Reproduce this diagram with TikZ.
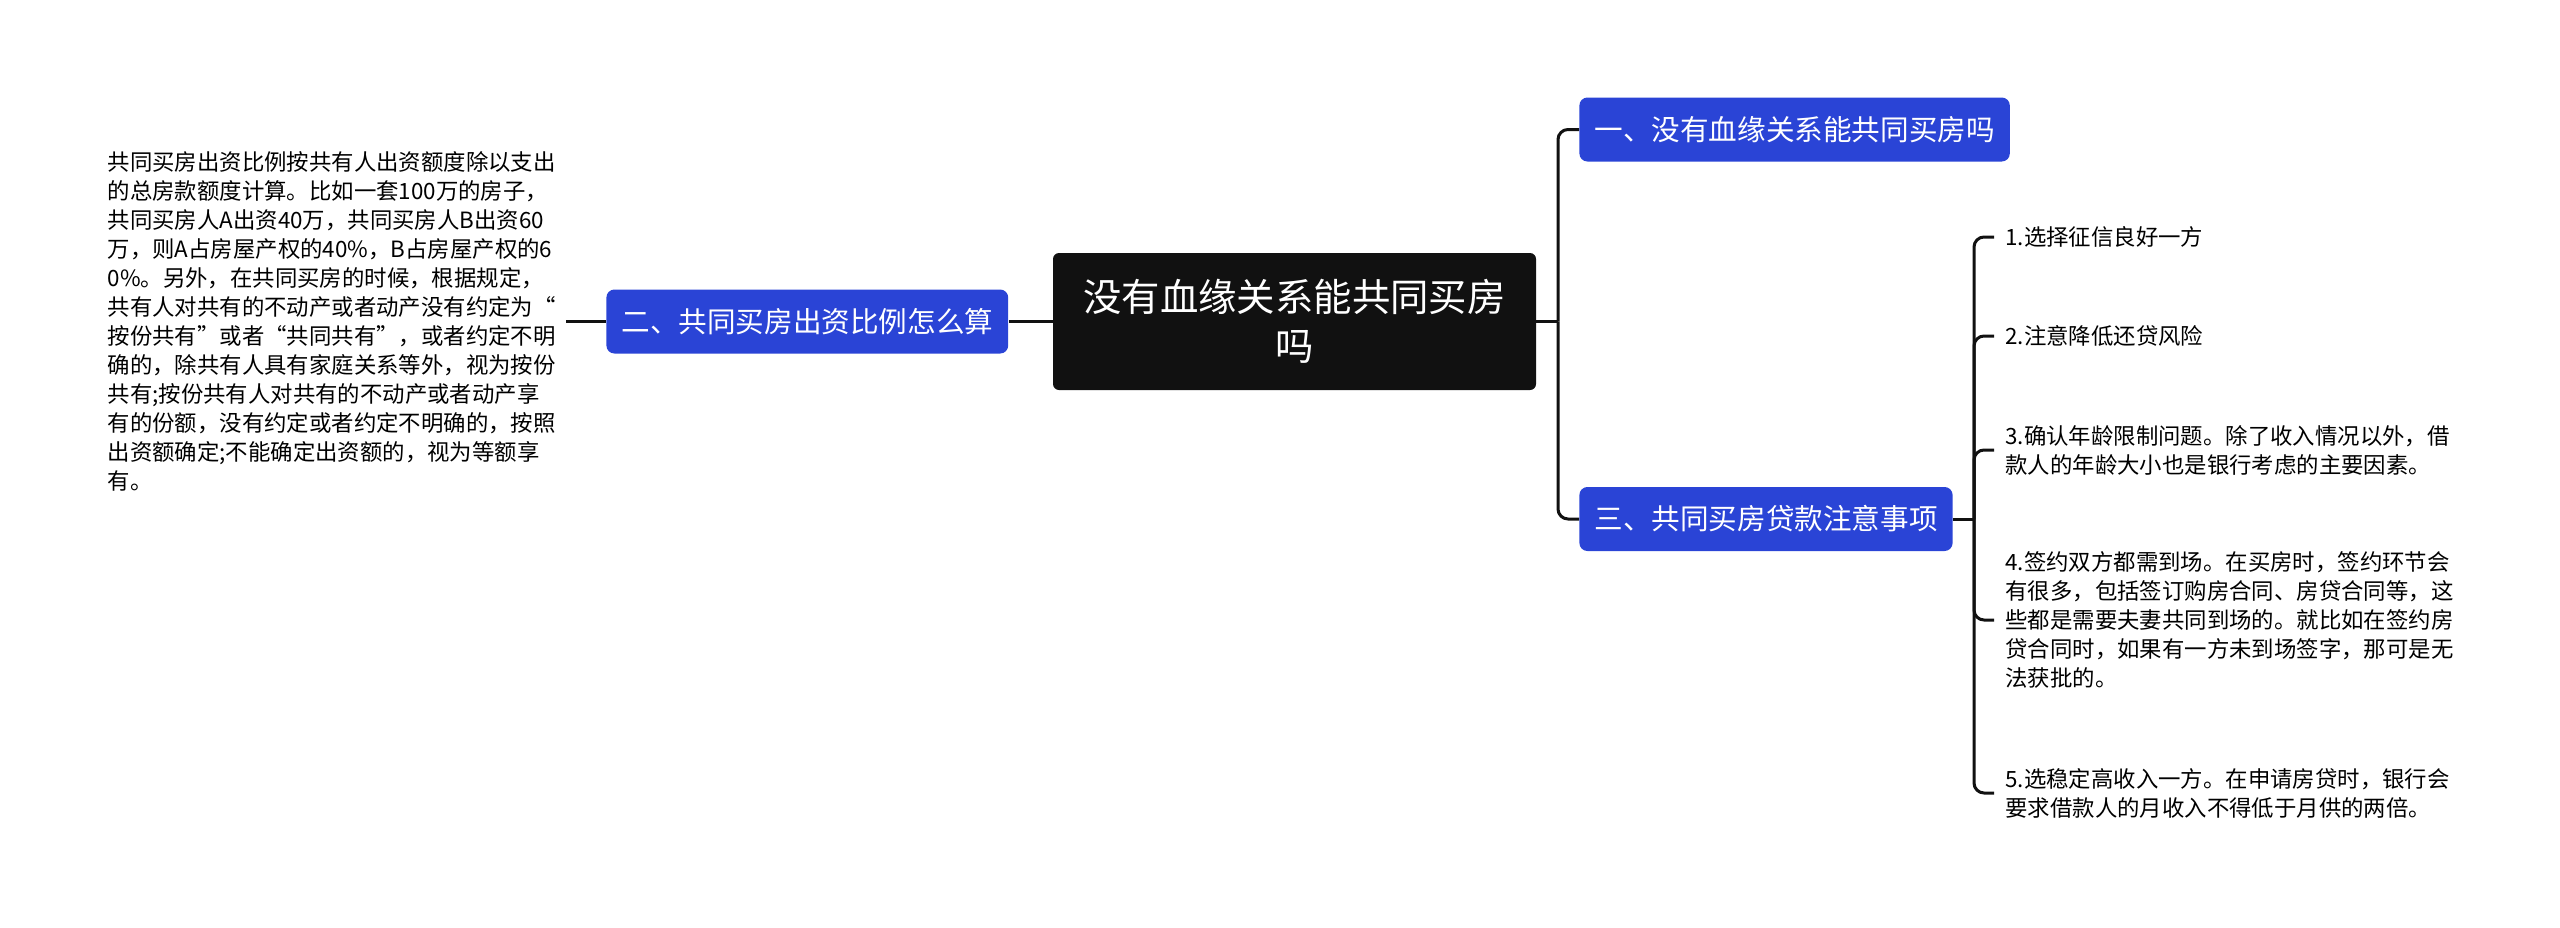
\documentclass[tikz,border=0pt]{standalone}
\usepackage{fontspec}
\setmainfont{Noto Sans CJK SC}
\usetikzlibrary{positioning}
\definecolor{RootBlack}{HTML}{111111}
\definecolor{TopicBlue}{HTML}{2A44D6}
\definecolor{LinkBlack}{HTML}{111111}

\begin{document}
\begin{tikzpicture}[
  x=0.5pt,y=-0.5pt,
  every node/.style={align=center},
  rootbox/.style={fill=RootBlack,text=white,rounded corners=3pt,minimum width=241.5pt,minimum height=68.5pt,font=\fontsize{19.2}{24.5}\selectfont},
  topic/.style={fill=TopicBlue,text=white,rounded corners=4pt,minimum height=32pt,inner xsep=7.5pt,font=\fontsize{14.3}{17}\selectfont},
  leaf/.style={align=left,anchor=west,inner xsep=5.5pt,inner ysep=0pt,font=\fontsize{11.2}{14.5}\selectfont},
  link/.style={draw=LinkBlack,line width=1.5pt,rounded corners=5pt}
]
\useasboundingbox (0,0) rectangle (2560,927);
\node[rootbox] (root) at (1294.5,321.5) {没有血缘关系能共同买房\\吗};
\node[topic,left=22pt of root] (two) {二、共同买房出资比例怎么算};
\node[leaf,anchor=east,inner xsep=5pt,left=20pt of two] (note) {共同买房出资比例按共有人出资额度除以支出\\的总房款额度计算。比如一套100万的房子，\\共同买房人A出资40万，共同买房人B出资60\\万，则A占房屋产权的40\%，B占房屋产权的6\\0\%。另外，在共同买房的时候，根据规定，\\共有人对共有的不动产或者动产没有约定为“\\按份共有”或者“共同共有”，或者约定不明\\确的，除共有人具有家庭关系等外，视为按份\\共有;按份共有人对共有的不动产或者动产享\\有的份额，没有约定或者约定不明确的，按照\\出资额确定;不能确定出资额的，视为等额享\\有。};
\node[topic,anchor=west] (one) at (1579,129.5) {一、没有血缘关系能共同买房吗};
\node[topic,anchor=west] (three) at (1579,519) {三、共同买房贷款注意事项};
\node[leaf] (tip1) at (1994,237) {1.选择征信良好一方};
\node[leaf] (tip2) at (1994,336) {2.注意降低还贷风险};
\node[leaf] (tip3) at (1994,450) {3.确认年龄限制问题。除了收入情况以外，借\\款人的年龄大小也是银行考虑的主要因素。};
\node[leaf] (tip4) at (1994,620) {4.签约双方都需到场。在买房时，签约环节会\\有很多，包括签订购房合同、房贷合同等，这\\些都是需要夫妻共同到场的。就比如在签约房\\贷合同时，如果有一方未到场签字，那可是无\\法获批的。};
\node[leaf] (tip5) at (1994,793) {5.选稳定高收入一方。在申请房贷时，银行会\\要求借款人的月收入不得低于月供的两倍。};
\coordinate (trunkR) at (1558,321.5);
\coordinate (trunkS) at (1974,519);
\draw[link] (root.west)--(two.east);
\draw[link] (two.west)--(note.east);
\draw[link] (root.east)--(trunkR);
\draw[link] (trunkR) |- (one.west);
\draw[link] (trunkR) |- (three.west);
\draw[link] (three.east)--(trunkS);
\foreach \t in {tip1,tip2,tip3,tip4,tip5}
  \draw[link] (trunkS) |- (\t.west);
\end{tikzpicture}
\end{document}
